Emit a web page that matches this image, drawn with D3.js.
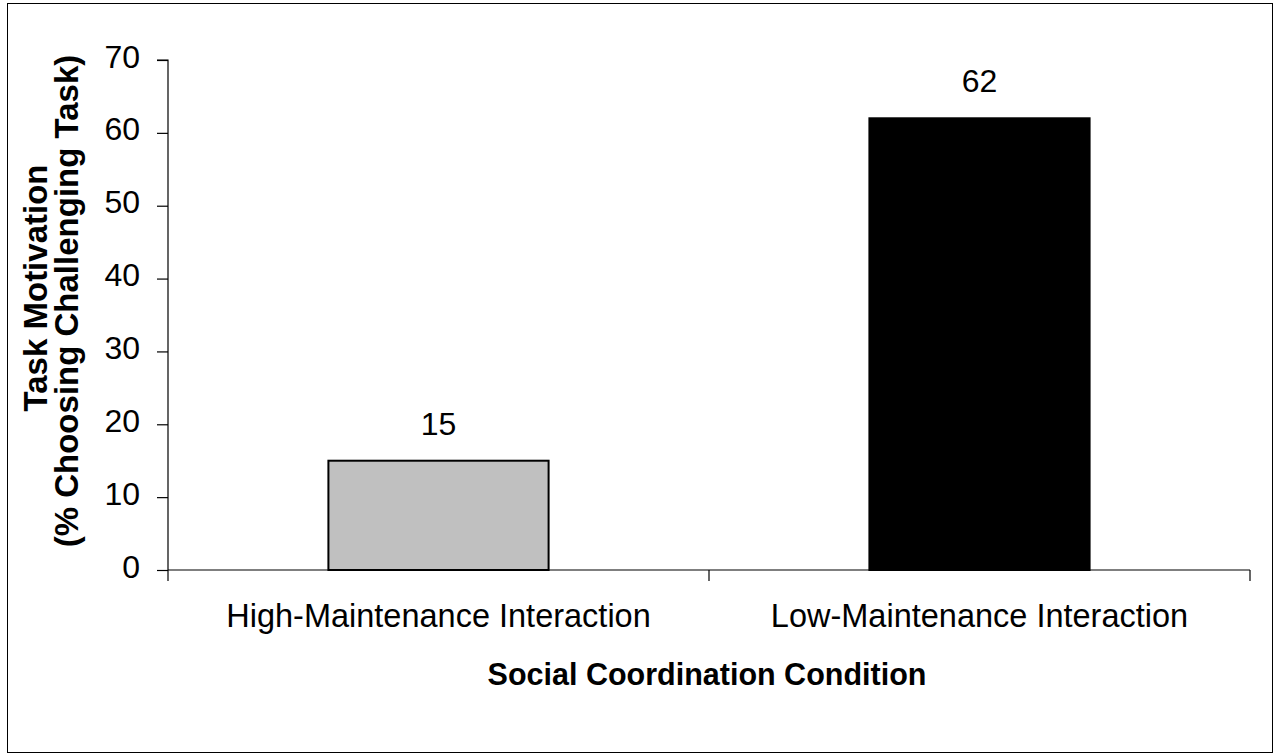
<!DOCTYPE html>
<html>
<head>
<meta charset="utf-8">
<script src="https://cdn.jsdelivr.net/npm/d3@7"></script>
<style>
  html, body { margin: 0; padding: 0; background: #fff; }
  svg { display: block; font-family: "Liberation Sans", Arial, sans-serif; }
</style>
</head>
<body>
<svg id="chart" width="1276" height="755"></svg>
<script>
const categories = ["High-Maintenance Interaction", "Low-Maintenance Interaction"];
const values = [15, 62];
const barFills = ["#c0c0c0", "#000000"];
const yTicks = [0, 10, 20, 30, 40, 50, 60, 70];
const yTitleLines = ["Task Motivation", "(% Choosing Challenging Task)"];
const xTitle = "Social Coordination Condition";

const FONT = "Liberation Sans, Arial, sans-serif";
const svg = d3.select("#chart");

// outer frame
svg.append("rect")
  .attr("x", 7.5).attr("y", 3.5)
  .attr("width", 1265).attr("height", 749)
  .attr("fill", "none").attr("stroke", "#000").attr("stroke-width", 1);

const plot = { left: 168, right: 1250, top: 60, bottom: 570 };

const x = d3.scaleBand()
  .domain(categories)
  .range([plot.left, plot.right])
  .paddingInner(0.593)
  .paddingOuter(0.2965);

const y = d3.scaleLinear()
  .domain([0, 70])
  .range([plot.bottom, plot.top]);

const g = svg.append("g");

// bars
g.selectAll("rect.bar")
  .data(values)
  .join("rect")
  .attr("class", "bar")
  .attr("x", (d, i) => x(categories[i]))
  .attr("y", d => y(d))
  .attr("width", x.bandwidth())
  .attr("height", d => y(0) - y(d))
  .attr("fill", (d, i) => barFills[i])
  .attr("stroke", "#000")
  .attr("stroke-width", 2);

// value labels
g.selectAll("text.val")
  .data(values)
  .join("text")
  .attr("class", "val")
  .attr("x", (d, i) => x(categories[i]) + x.bandwidth() / 2)
  .attr("y", d => y(d) - 26)
  .attr("text-anchor", "middle")
  .attr("font-size", 32)
  .attr("font-family", FONT)
  .attr("fill", "#000")
  .text(d => d);

// y axis
const yAxis = d3.axisLeft(y).tickValues(yTicks).tickSize(11).tickPadding(17);
const yg = svg.append("g")
  .attr("transform", `translate(${plot.left},0)`)
  .call(yAxis);
yg.selectAll("path, line").attr("stroke", "#000").attr("stroke-width", 1.2);
yg.select(".domain").attr("d", `M-11,${plot.top}H0V${plot.bottom}`);
yg.selectAll("text")
  .attr("font-size", 32)
  .attr("font-family", FONT)
  .attr("fill", "#000")
  .attr("dy", "0.22em");

// x axis with category boundary ticks
const xg = svg.append("g")
  .attr("transform", `translate(0,${plot.bottom})`);
xg.append("path")
  .attr("d", `M${plot.left},0H${plot.right}`)
  .attr("stroke", "#000").attr("stroke-width", 1.2).attr("fill", "none");
const boundaries = [plot.left, ...categories.map(c => x(c) + x.bandwidth() / 2 + x.step() / 2)];
xg.selectAll("line.bt")
  .data(boundaries)
  .join("line")
  .attr("class", "bt")
  .attr("x1", d => d).attr("x2", d => d)
  .attr("y1", 0).attr("y2", 11)
  .attr("stroke", "#000").attr("stroke-width", 1.2);
xg.selectAll("text.cat")
  .data(categories)
  .join("text")
  .attr("class", "cat")
  .attr("x", d => x(d) + x.bandwidth() / 2)
  .attr("y", 57)
  .attr("text-anchor", "middle")
  .attr("font-size", 32.5)
  .attr("font-family", FONT)
  .attr("fill", "#000")
  .text(d => d);

// x title
svg.append("text")
  .attr("x", 707)
  .attr("y", 685)
  .attr("text-anchor", "middle")
  .attr("font-size", 30.5)
  .attr("font-weight", "bold")
  .attr("font-family", FONT)
  .attr("fill", "#000")
  .text(xTitle);

// y title (two lines, rotated)
const yTitleCenters = [288, 301];
svg.selectAll("text.ytitle")
  .data(yTitleLines)
  .join("text")
  .attr("class", "ytitle")
  .attr("transform", (d, i) => `translate(${47 + i * 31},${yTitleCenters[i]}) rotate(-90)`)
  .attr("text-anchor", "middle")
  .attr("font-size", 33)
  .attr("font-weight", "bold")
  .attr("font-family", FONT)
  .attr("fill", "#000")
  .text(d => d);
</script>
</body>
</html>
